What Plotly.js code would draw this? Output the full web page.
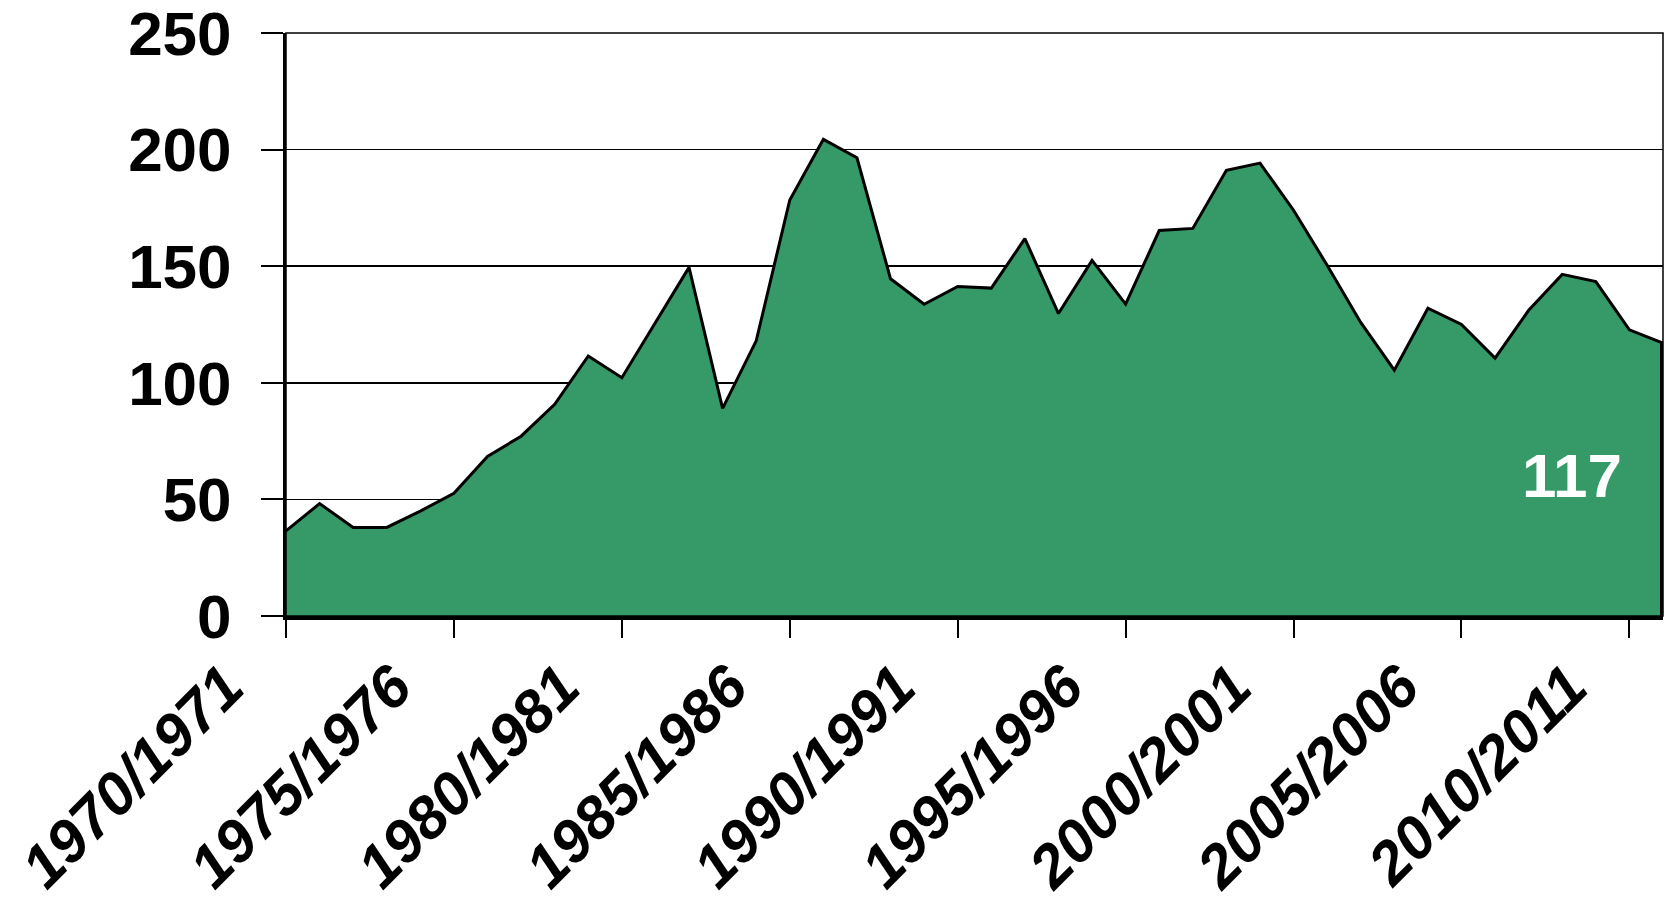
<!DOCTYPE html>
<html>
<head>
<meta charset="utf-8">
<script src="https://cdn.plot.ly/plotly-3.0.1.min.js"></script>
<style>html,body{margin:0;padding:0;background:#fff;}#chart{width:1675px;height:906px;}</style>
</head>
<body>
<div id="chart"></div>
<script>
const categories = [
  "1970/1971","1971/1972","1972/1973","1973/1974","1974/1975","1975/1976","1976/1977","1977/1978",
  "1978/1979","1979/1980","1980/1981","1981/1982","1982/1983","1983/1984","1984/1985","1985/1986",
  "1986/1987","1987/1988","1988/1989","1989/1990","1990/1991","1991/1992","1992/1993","1993/1994",
  "1994/1995","1995/1996","1996/1997","1997/1998","1998/1999","1999/2000","2000/2001","2001/2002",
  "2002/2003","2003/2004","2004/2005","2005/2006","2006/2007","2007/2008","2008/2009","2009/2010",
  "2010/2011","2011/2012"
];
const values = [
  36.5, 48.2, 38, 38, 45, 52.6, 68.4, 77.1,
  90.8, 111.5, 102.2, 125.9, 149.5, 89, 118, 178.4,
  204.4, 196.5, 144.6, 133.7, 141.3, 140.6, 161.8, 129.7,
  152.5, 133.7, 165.3, 166.2, 191.1, 194.2, 174, 150.4,
  125.9, 105.4, 132, 125, 110.6, 131.1, 146.5, 143.4,
  122.7, 117
];
const tickLabels = categories.filter((c, i) => i % 5 === 0);

const lastIdx = values.length - 1;
const FONT = "Liberation Sans, Arial, sans-serif";

const trace = {
  type: "scatter",
  mode: "lines",
  x: categories,
  y: values,
  fill: "tozeroy",
  fillcolor: "#359A68",
  line: {color: "#000000", width: 3},
  hoverinfo: "x+y"
};

const layout = {
  width: 1675,
  height: 906,
  margin: {l: 286, r: 12, t: 33, b: 290},
  paper_bgcolor: "#ffffff",
  plot_bgcolor: "#ffffff",
  showlegend: false,
  xaxis: {
    type: "category",
    range: [0, lastIdx],
    tickmode: "array",
    tickvals: tickLabels,
    ticktext: tickLabels,
    ticks: "outside",
    ticklen: 18,
    tickwidth: 2,
    tickcolor: "#000",
    tickangle: -45,
    ticklabelshift: -60,
    ticklabelstandoff: -10,
    ticklabeloverflow: "allow",
    tickfont: {family: FONT, size: 60, color: "#000", weight: "bold", style: "italic"},
    showgrid: false,
    showline: true,
    linecolor: "#000",
    linewidth: 3.5,
    zeroline: false
  },
  yaxis: {
    range: [0, 250],
    tickmode: "linear",
    tick0: 0,
    dtick: 50,
    ticks: "outside",
    ticklen: 22,
    tickwidth: 2,
    tickcolor: "#000",
    ticklabelstandoff: 17,
    ticklabeloverflow: "allow",
    tickfont: {family: FONT, size: 62, color: "#000", weight: "bold"},
    showgrid: true,
    gridcolor: "#000",
    gridwidth: 1.5,
    showline: true,
    linecolor: "#000",
    linewidth: 3,
    zeroline: false
  },
  shapes: [
    {type: "rect", xref: "paper", yref: "paper", x0: 0, x1: 1, y0: 0, y1: 1,
     line: {color: "#000", width: 1.5}, layer: "above"},
    {type: "line", xref: "x", yref: "y", x0: categories[lastIdx], x1: categories[lastIdx],
     y0: 0, y1: values[lastIdx], line: {color: "#000", width: 6}, layer: "above"}
  ],
  annotations: [
    {xref: "paper", yref: "paper", x: 0.934, y: 0.241, xanchor: "center", yanchor: "middle",
     text: String(values[lastIdx]), showarrow: false,
     font: {family: FONT, size: 62, color: "#ffffff", weight: "bold"}}
  ]
};

Plotly.newPlot("chart", [trace], layout, {displayModeBar: false, staticPlot: true});
</script>
</body>
</html>
